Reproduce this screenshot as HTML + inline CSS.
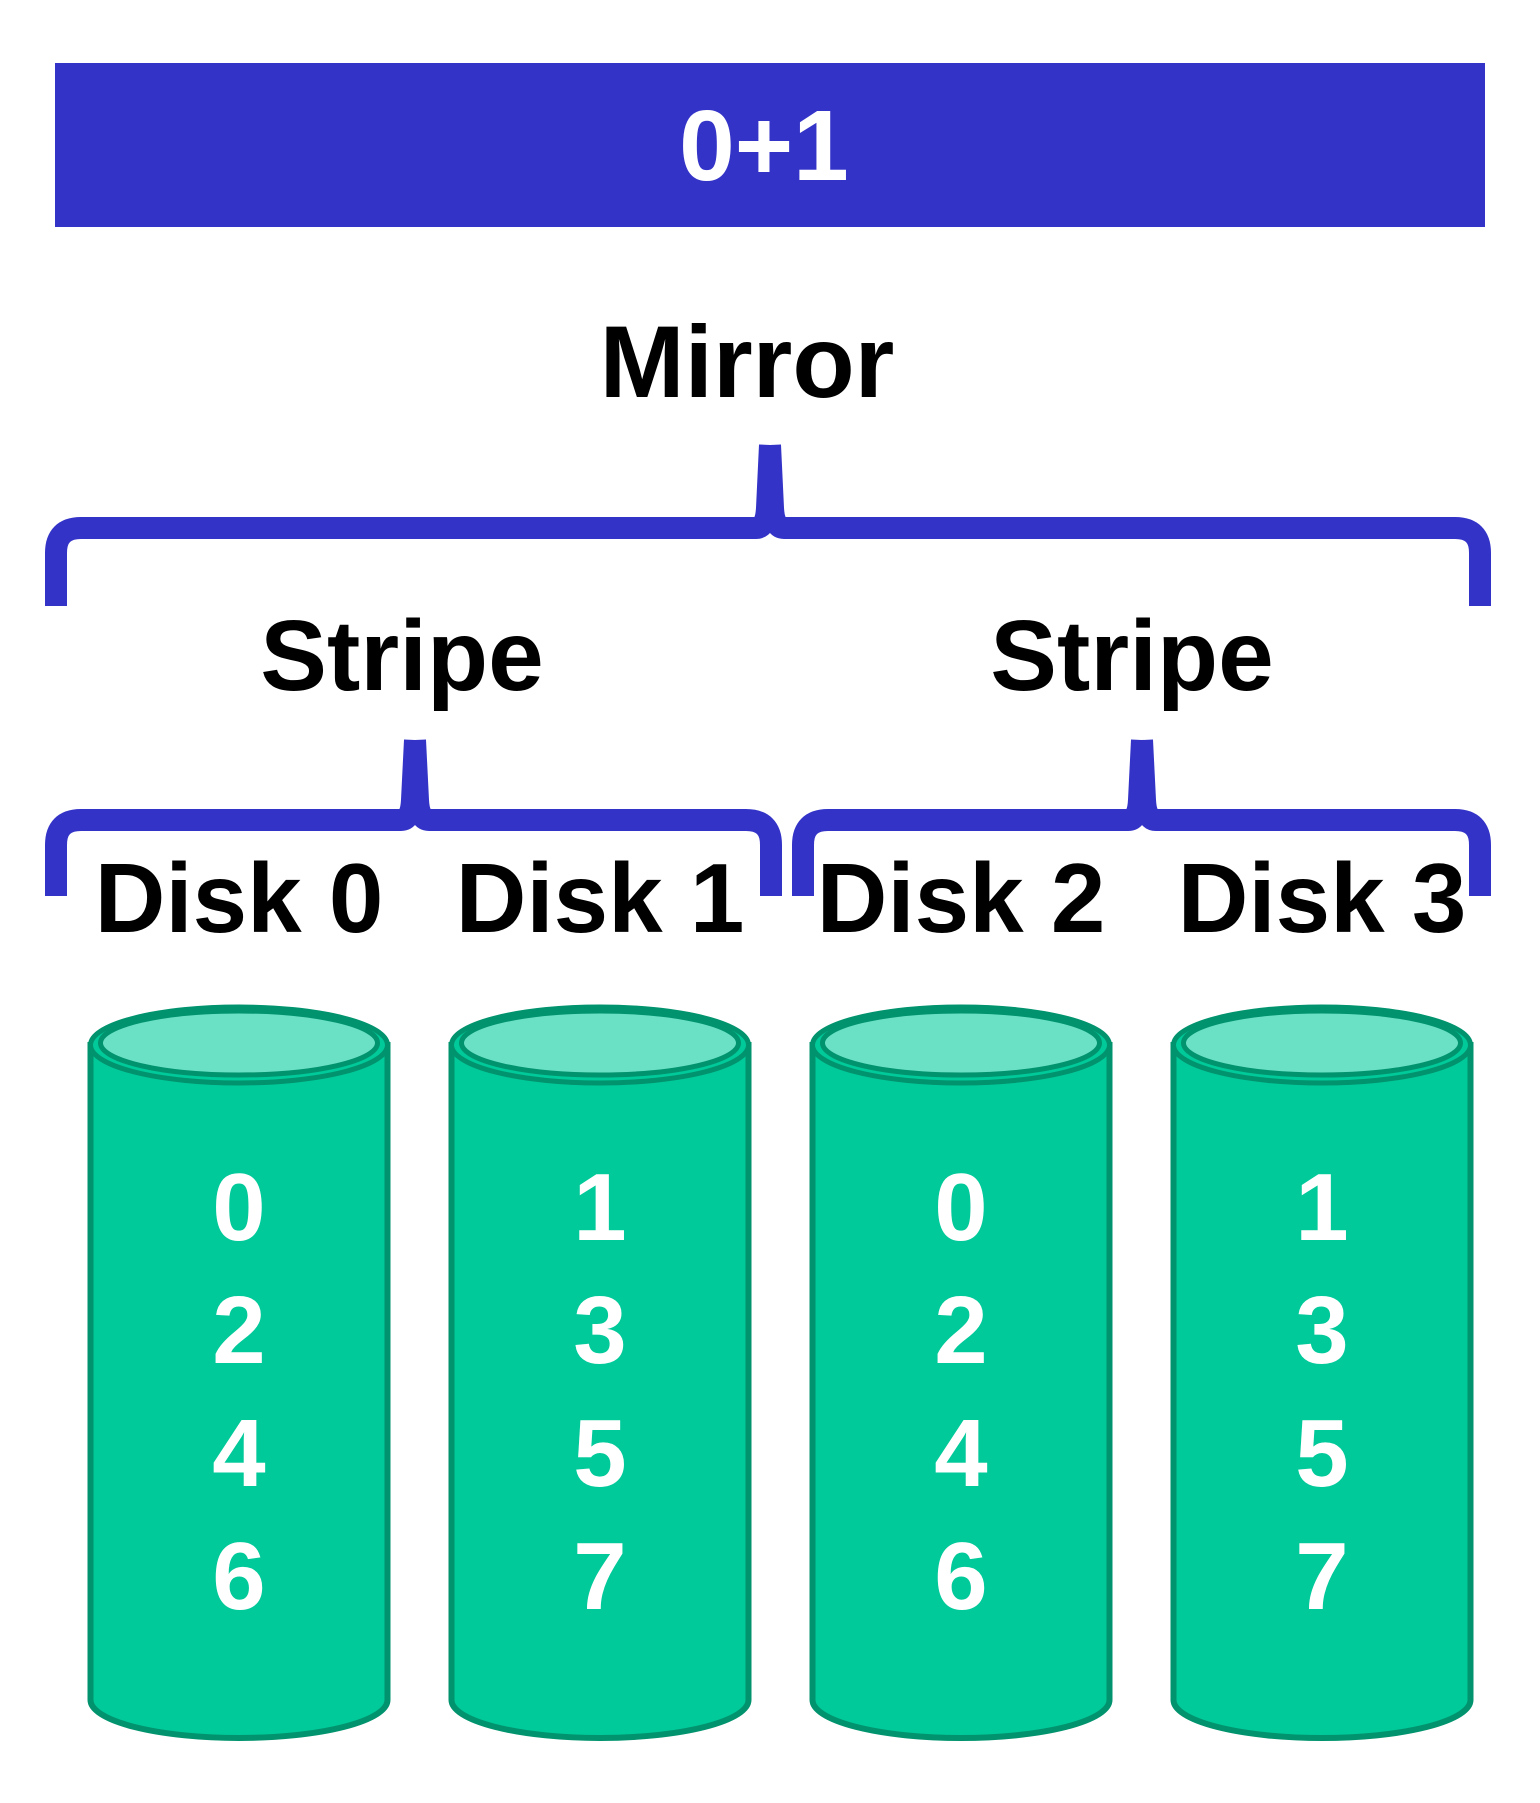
<!DOCTYPE html>
<html><head><meta charset="utf-8"><style>
html,body{margin:0;padding:0;background:#fff;}
svg{display:block;}
text{font-family:"Liberation Sans",sans-serif;font-weight:bold;}
</style></head><body>
<svg id="c" width="1540" height="1803" viewBox="0 0 1540 1803">
<rect x="55" y="63" width="1430" height="164" fill="#3333c8"/>
<text x="764" y="180" font-size="100" fill="#fff" text-anchor="middle">0+1</text>
<text x="747" y="397" font-size="102" fill="#000" text-anchor="middle">Mirror</text>
<g id="braces" fill="none" stroke="#3333c8" stroke-width="22" stroke-linejoin="round"></g>
<text x="402" y="690" font-size="100" fill="#000" text-anchor="middle">Stripe</text>
<text x="1132" y="690" font-size="100" fill="#000" text-anchor="middle">Stripe</text>
<g id="disks"></g>
</svg>
<script>
const diskNames = ["Disk 0","Disk 1","Disk 2","Disk 3"];
const diskBlocks = [[0,2,4,6],[1,3,5,7],[0,2,4,6],[1,3,5,7]];
const NS="http://www.w3.org/2000/svg";
const svg=document.getElementById('c');
function mk(t,a,p){const e=document.createElementNS(NS,t);for(const k in a)e.setAttribute(k,a[k]);(p||svg).appendChild(e);return e;}
function brace(x0,x1,px,yl,ye,yp,name){
  const g=document.getElementById('braces');
  const d=`M${x0},${ye} L${x0},${yl+25} Q${x0},${yl} ${x0+25},${yl} L${px-14},${yl} Q${px-4},${yl} ${px-3},${yl-20} L${px},${yp} M${px},${yp} L${px+3},${yl-20} Q${px+4},${yl} ${px+14},${yl} L${x1-25},${yl} Q${x1},${yl} ${x1},${yl+25} L${x1},${ye}`;
  const p=mk('path',{d:d},g);
  
  
}
brace(56,1480,770,528,606,445,'mirror-brace');
brace(56,771,415,820,896,740,'stripe-brace-left');
brace(803,1480,1142,820,896,740,'stripe-brace-right');
const dg=document.getElementById('disks');
const x0=239, step=361, w=297;
diskNames.forEach((n,i)=>{
  const cx=x0+i*step;
  const t=mk('text',{x:cx,y:932,'font-size':98,fill:'#000','text-anchor':'middle'},dg);
  t.textContent=n;
  
  
  const top=1045, bot=1700, ry=38;
  const body=mk('path',{d:`M${cx-w/2},${top} L${cx-w/2},${bot} A${w/2},${ry} 0 0 0 ${cx+w/2},${bot} L${cx+w/2},${top} Z`,fill:'#00c99a',stroke:'#00936d','stroke-width':6},dg);
  
  
  const cap=mk('ellipse',{cx:cx,cy:top,rx:w/2,ry:ry,fill:'#00c99a',stroke:'#00936d','stroke-width':5},dg);
  
  
  const inner=mk('ellipse',{cx:cx,cy:top-2,rx:w/2-10,ry:ry-6,fill:'#6ae0c4',stroke:'#00936d','stroke-width':5},dg);
  
  
  diskBlocks[i].forEach((v,j)=>{
    const b=mk('text',{x:cx,y:1240+j*123,'font-size':96,fill:'#fff','text-anchor':'middle'},dg);
    b.textContent=v;
    
    
  });
});
</script>
</body></html>
